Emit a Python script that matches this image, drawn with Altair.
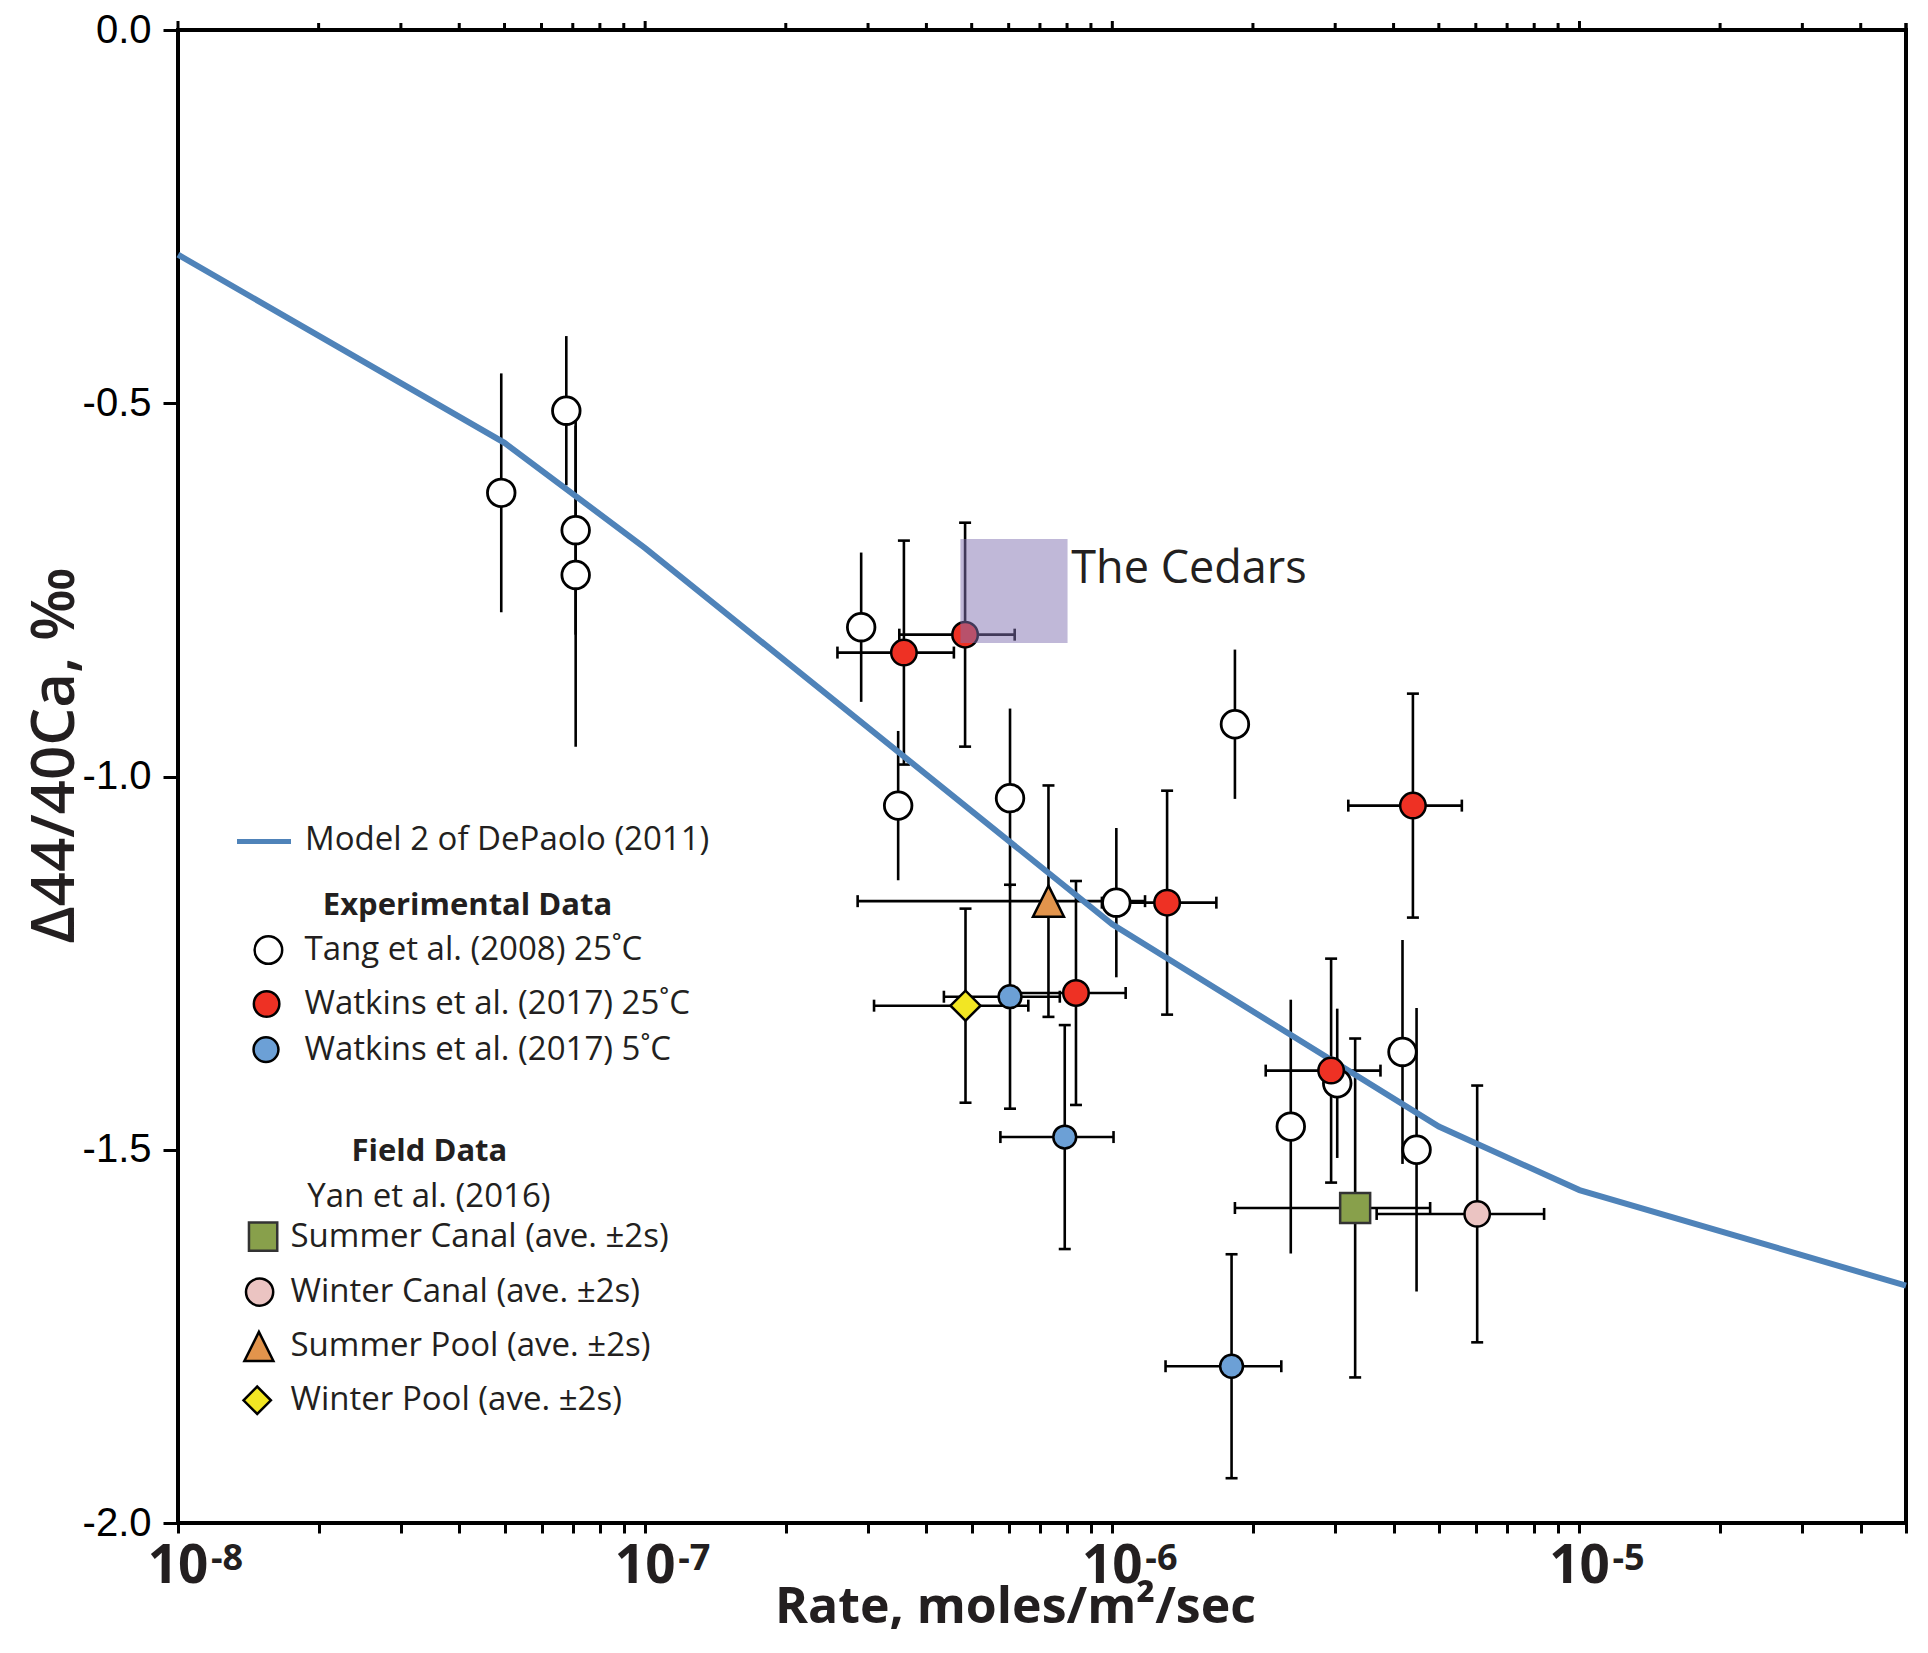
import altair as alt
import pandas as pd

# ---------------- values ----------------
model_rate = [1e-8, 5e-8, 1e-7, 1e-6, 5e-6, 1e-5, 5e-5]
model_delta = [-0.301, -0.553, -0.694, -1.198, -1.469, -1.554, -1.682]

tang_rate = [4.92e-8, 6.78e-8, 7.10e-8, 7.10e-8, 2.90e-7, 3.48e-7, 6.04e-7,
             1.02e-6, 1.83e-6, 2.41e-6, 3.03e-6, 4.18e-6, 4.48e-6]
tang_delta = [-0.620, -0.510, -0.670, -0.730, -0.800, -1.039, -1.029,
              -1.169, -0.930, -1.469, -1.411, -1.369, -1.500]
tang_err = [0.16, 0.10, 0.14, 0.23, 0.10, 0.10, 0.12,
            0.10, 0.10, 0.17, 0.10, 0.15, 0.19]

w25_rate = [3.58e-7, 4.84e-7, 8.36e-7, 1.31e-6, 2.94e-6, 4.40e-6]
w25_rate_err = [1.00e-7, 1.34e-7, 2.32e-7, 3.60e-7, 8.10e-7, 1.20e-6]
w25_delta = [-0.834, -0.810, -1.290, -1.169, -1.394, -1.039]
w25_err = [0.15, 0.15, 0.15, 0.15, 0.15, 0.15]

w5_rate = [6.04e-7, 7.91e-7, 1.80e-6]
w5_rate_err = [1.68e-7, 2.15e-7, 5.00e-7]
w5_delta = [-1.295, -1.483, -1.790]
w5_err = [0.15, 0.15, 0.15]

field_names = ["Summer Canal", "Winter Canal", "Summer Pool", "Winter Pool"]
field_rate = [3.31e-6, 6.04e-6, 7.30e-7, 4.85e-7]
field_rate_err = [1.48e-6, 2.36e-6, 4.45e-7, 1.76e-7]
field_delta = [-1.578, -1.586, -1.167, -1.307]
field_err = [0.227, 0.172, 0.155, 0.130]

cedars_rate = [4.73e-7, 8.02e-7]
cedars_delta = [-0.682, -0.821]
cedars_label = "The Cedars"
cedars_label_rate = [8.17e-7]
cedars_label_delta = [-0.741]

decade_values = [1e-8, 1e-7, 1e-6, 1e-5]
decade_exponents = ["-8", "-7", "-6", "-5"]
y_tick_values = [0.0, -0.5, -1.0, -1.5, -2.0]
minor_mult = [2, 3, 4, 5, 6, 7, 8, 9]

# ---------------- styling ----------------
INK = "#231F20"
FONT = "Open Sans"
W, H = 1728, 1493
LINE_BLUE = "#4F83B9"
RED = "#EE3124"
BLUE = "#6CA0D6"
GREEN = "#88A04B"
PINK = "#EBC4C2"
ORANGE = "#E2944C"
YELLOW = "#F2E623"
TRI = "M0,-1L1,1L-1,1Z"
EBW = 2.6

all_ticks = []
for d in decade_values:
    all_ticks.append(d)
    for m in minor_mult:
        v = d * m
        if v <= 5e-5 * 1.0001:
            all_ticks.append(v)
all_ticks.append(5e-5)
minor_ticks = [t for t in all_ticks if t not in decade_values]

XS = alt.Scale(type="log", domain=[1e-8, 5e-5], nice=False)
YS = alt.Scale(domain=[-2.0, 0.0], nice=False, zero=False)
XA = alt.Axis(title="Rate, moles/m²/sec", values=all_ticks, labels=False,
              tickSize=10, tickWidth=3, tickColor="black", domain=False, grid=False,
              titleFont=FONT, titleFontSize=50, titleFontWeight="bold", titleColor=INK,
              titleX=837, titleY=99, titleAlign="center", titleBaseline="alphabetic")
YA = alt.Axis(title="Δ44/40Ca, ‰", values=y_tick_values,
              labelExpr="replace(format(datum.value, '.1f'), '\u2212', '-')",
              labelFont="Liberation Sans", labelFontSize=40, labelColor="black",
              labelPadding=12, tickSize=15, tickWidth=3, tickColor="black",
              domain=False, grid=False,
              titleFont=FONT, titleFontSize=60, titleFontWeight=600, titleColor=INK,
              titleAngle=270, titleX=-105, titleY=725, titleAlign="center",
              titleBaseline="alphabetic")


def X(f):
    return alt.X(f, type="quantitative", scale=XS, axis=XA)


def Y(f):
    return alt.Y(f, type="quantitative", scale=YS, axis=YA)


def frame(rate, delta, derr, rerr=None):
    d = pd.DataFrame({"rate": rate, "delta": delta, "derr": derr})
    d["dlo"] = d["delta"] - d["derr"]
    d["dhi"] = d["delta"] + d["derr"]
    if rerr is not None:
        d["rerr"] = rerr
        d["rlo"] = d["rate"] - d["rerr"]
        d["rhi"] = d["rate"] + d["rerr"]
    return d


tang = frame(tang_rate, tang_delta, tang_err)
w25 = frame(w25_rate, w25_delta, w25_err, w25_rate_err)
w5 = frame(w5_rate, w5_delta, w5_err, w5_rate_err)
field = frame(field_rate, field_delta, field_err, field_rate_err)
field["name"] = field_names

capped = pd.concat([w25, w5, field], ignore_index=True)
allpts = pd.concat([tang, capped], ignore_index=True)
vcaps = pd.concat([capped[["rate", "dlo"]].rename(columns={"dlo": "d"}),
                   capped[["rate", "dhi"]].rename(columns={"dhi": "d"})], ignore_index=True)
hcaps = pd.concat([capped[["rlo", "delta"]].rename(columns={"rlo": "r"}),
                   capped[["rhi", "delta"]].rename(columns={"rhi": "r"})], ignore_index=True)

model = pd.DataFrame({"rate": model_rate, "delta": model_delta})
cedars = pd.DataFrame({"r1": [cedars_rate[0]], "r2": [cedars_rate[1]],
                       "d1": [cedars_delta[0]], "d2": [cedars_delta[1]]})
cedars_txt = pd.DataFrame({"rate": cedars_label_rate, "delta": cedars_label_delta,
                           "t": [cedars_label]})
decades = pd.DataFrame({"rate": decade_values, "exp": decade_exponents})
top_major = pd.DataFrame({"rate": decade_values})
top_minor = pd.DataFrame({"rate": minor_ticks})

layers = []
# error bars
layers.append(alt.Chart(allpts).mark_rule(color="black", strokeWidth=EBW).encode(
    x=X("rate"), y=Y("dlo"), y2=alt.Y2("dhi")))
layers.append(alt.Chart(capped).mark_rule(color="black", strokeWidth=EBW).encode(
    x=X("rlo"), x2=alt.X2("rhi"), y=Y("delta")))
layers.append(alt.Chart(vcaps).mark_tick(orient="horizontal", size=12, thickness=2.6,
                                         color="black", opacity=1).encode(x=X("rate"), y=Y("d")))
layers.append(alt.Chart(hcaps).mark_tick(orient="vertical", size=12, thickness=2.6,
                                         color="black", opacity=1).encode(x=X("r"), y=Y("delta")))
# model curve
layers.append(alt.Chart(model).mark_line(color=LINE_BLUE, strokeWidth=6).encode(
    x=X("rate"), y=Y("delta")))


def pts(df, **kw):
    base = dict(filled=True, opacity=1, stroke="black", strokeWidth=2.5)
    base.update(kw)
    return alt.Chart(df).mark_point(**base).encode(x=X("rate"), y=Y("delta"))


layers.append(pts(tang, shape="circle", size=760, fill="white", strokeWidth=2.8))
layers.append(pts(w25, shape="circle", size=650, fill=RED))
layers.append(pts(w5, shape="circle", size=520, fill=BLUE))
layers.append(pts(field.iloc[[0]], shape="square", size=900, fill=GREEN, stroke="#333333"))
layers.append(pts(field.iloc[[1]], shape="circle", size=640, fill=PINK))
layers.append(pts(field.iloc[[2]], shape=TRI, size=960, fill=ORANGE))
layers.append(pts(field.iloc[[3]], shape="diamond", size=900, fill=YELLOW))

# The Cedars box
layers.append(alt.Chart(cedars).mark_rect(fill="#8171B1", opacity=0.5).encode(
    x=X("r1"), x2=alt.X2("r2"), y=Y("d1"), y2=alt.Y2("d2")))
layers.append(alt.Chart(cedars_txt).mark_text(font=FONT, fontSize=45, color=INK,
                                              align="left", baseline="alphabetic").encode(
    x=X("rate"), y=Y("delta"), text="t:N"))

# x tick labels 10^n
layers.append(alt.Chart(decades).mark_text(text="10", font=FONT, fontSize=53, fontWeight="bold",
                                           color=INK, align="center", baseline="alphabetic").encode(
    x=X("rate"), y=alt.value(H + 60.3)))
layers.append(alt.Chart(decades).mark_text(font=FONT, fontSize=36, fontWeight="bold", color=INK,
                                           align="left", baseline="alphabetic", dx=33).encode(
    x=X("rate"), y=alt.value(H + 47), text="exp:N"))
# top-axis ticks
layers.append(alt.Chart(top_minor).mark_rule(color="black", strokeWidth=3).encode(
    x=X("rate"), y=alt.value(0), y2=alt.value(-7)))
layers.append(alt.Chart(top_major).mark_rule(color="black", strokeWidth=3).encode(
    x=X("rate"), y=alt.value(0), y2=alt.value(-9)))

# ---------------- legend ----------------
one = pd.DataFrame({"k": [0]})


def lg_text(x, y, s, size=33, weight="normal", align="left"):
    return alt.Chart(one).mark_text(text=s, font=FONT, fontSize=size, fontWeight=weight,
                                    color=INK, align=align, baseline="middle").encode(
        x=alt.value(x), y=alt.value(y))


def lg_mark(x, y, **kw):
    base = dict(filled=True, opacity=1, stroke="black", strokeWidth=2.5)
    base.update(kw)
    return alt.Chart(one).mark_point(**base).encode(x=alt.value(x), y=alt.value(y))


layers.append(alt.Chart(one).mark_rule(color=LINE_BLUE, strokeWidth=5).encode(
    x=alt.value(59), x2=alt.value(113), y=alt.value(811.5)))
layers.append(lg_text(127, 809.5, "Model 2 of DePaolo (2011)"))
layers.append(lg_text(289.5, 875.7, "Experimental Data", size=31, weight="bold", align="center"))
layers.append(lg_mark(90.4, 920, shape="circle", size=760, fill="white"))
layers.append(lg_text(126.5, 920, "Tang et al. (2008) 25˚C"))
layers.append(lg_mark(88.6, 974, shape="circle", size=650, fill=RED))
layers.append(lg_text(126.5, 974, "Watkins et al. (2017) 25˚C"))
layers.append(lg_mark(88, 1019.6, shape="circle", size=620, fill=BLUE))
layers.append(lg_text(126.5, 1019.6, "Watkins et al. (2017) 5˚C"))
layers.append(lg_text(251.4, 1122.4, "Field Data", size=31, weight="bold", align="center"))
layers.append(lg_text(250.9, 1167, "Yan et al. (2016)", align="center"))
layers.append(lg_mark(85.1, 1206.6, shape="square", size=800, fill=GREEN, stroke="#333333"))
layers.append(lg_text(112.5, 1206.6, "Summer Canal (ave. ±2s)"))
layers.append(lg_mark(81.6, 1262.1, shape="circle", size=740, fill=PINK))
layers.append(lg_text(112.5, 1262.1, "Winter Canal (ave. ±2s)"))
layers.append(lg_mark(80.9, 1316.4, shape=TRI, size=840, fill=ORANGE))
layers.append(lg_text(112.5, 1316.4, "Summer Pool (ave. ±2s)"))
layers.append(lg_mark(79.2, 1370.3, shape="diamond", size=750, fill=YELLOW))
layers.append(lg_text(112.5, 1370.3, "Winter Pool (ave. ±2s)"))

chart = alt.layer(*layers).properties(
    width=W, height=H,
    autosize=alt.AutoSizeParams(type="none"),
    padding={"left": 170, "top": 22, "right": 14, "bottom": 114},
    background="white",
).configure_view(stroke="black", strokeWidth=4)

chart.save("out.html", embed_options={"renderer": "svg", "actions": False})
